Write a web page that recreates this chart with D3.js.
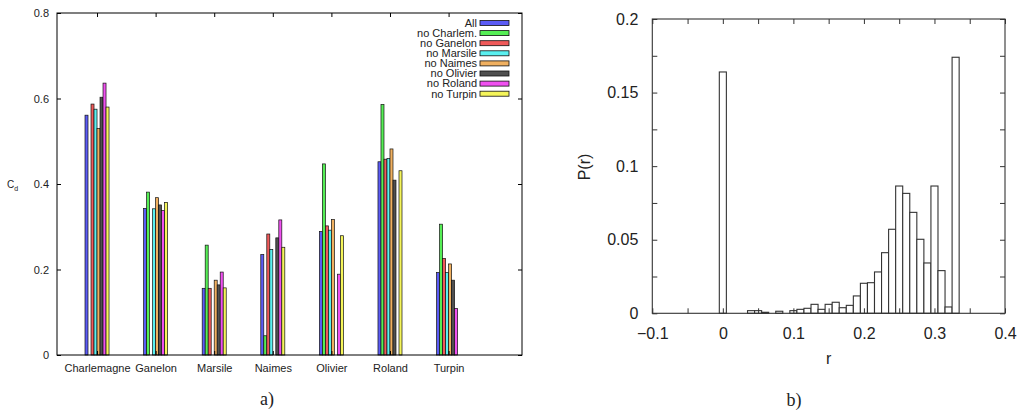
<!DOCTYPE html>
<html><head><meta charset="utf-8">
<script src="https://cdn.jsdelivr.net/npm/d3@7"></script>
<style>
body{margin:0;background:#fff;}
svg{display:block;}
text{font-family:"Liberation Sans",Arial,sans-serif;fill:#222;}
</style></head>
<body>
<svg id="c" width="1023" height="413"></svg>
<script>
// ---------- Data: panel a ----------
const categories = ["Charlemagne","Ganelon","Marsile","Naimes","Olivier","Roland","Turpin"];
const seriesNames = ["All","no Charlem.","no Ganelon","no Marsile","no Naimes","no Olivier","no Roland","no Turpin"];
const seriesColors = ["#5b5bf5","#55ee55","#f05a5a","#5af0f0","#f0b060","#505050","#f050f0","#f5f55a"];
const valAll      = [0.561,0.343,0.156,0.235,0.289,0.452,0.193];
const valNoCharl  = [0.000,0.381,0.257,0.045,0.447,0.586,0.306];
const valNoGanel  = [0.587,0.000,0.156,0.283,0.302,0.458,0.226];
const valNoMarsi  = [0.575,0.342,0.000,0.247,0.292,0.460,0.193];
const valNoNaime  = [0.530,0.368,0.175,0.000,0.317,0.482,0.213];
const valNoOlivi  = [0.603,0.351,0.164,0.274,0.000,0.409,0.175];
const valNoRolan  = [0.636,0.338,0.194,0.316,0.189,0.000,0.109];
const valNoTurpi  = [0.580,0.357,0.157,0.252,0.279,0.431,0.000];
const seriesValues = [valAll,valNoCharl,valNoGanel,valNoMarsi,valNoNaime,valNoOlivi,valNoRolan,valNoTurpi];
const yTicksA = [0,0.2,0.4,0.6,0.8];

// ---------- Data: panel b ----------
const rBins = [0,0.04,0.05,0.06,0.08,0.10,0.11,0.12,0.13,0.14,0.15,0.16,0.17,0.18,0.19,0.20,0.21,0.22,0.23,0.24,0.25,0.26,0.27,0.28,0.29,0.30,0.31,0.32,0.33];
const pValues = [0.164,0.0018,0.0018,0.0007,0.0014,0.0018,0.0027,0.0034,0.0061,0.0027,0.0061,0.0075,0.0038,0.0054,0.0118,0.0204,0.0208,0.0281,0.0412,0.0571,0.0865,0.0815,0.0686,0.0503,0.0342,0.0865,0.029,0.0043,0.174];
const xTicksB = [-0.1,0,0.1,0.2,0.3,0.4];
const yTicksB = [0,0.05,0.1,0.15,0.2];
const binWidth = 0.01;

const svg = d3.select("#c");

// ================= Panel a =================
(function(){
  const L=57,R=522,T=13,B=355;
  const x = d3.scaleLinear().domain([-0.683,7.253]).range([L,R]);
  const y = d3.scaleLinear().domain([0,0.8]).range([B,T]);
  const sb = d3.scaleBand().domain(d3.range(seriesNames.length)).range([-0.205,0.205]);
  const g = svg.append("g");

  // bars
  seriesValues.forEach((vals,si)=>{
    g.selectAll(null).data(vals).enter().append("rect")
      .attr("x",(d,i)=>x(i+sb(si)))
      .attr("width",(d,i)=>x(i+sb(si)+sb.bandwidth())-x(i+sb(si)))
      .attr("y",d=>y(d))
      .attr("height",d=>y(0)-y(d))
      .attr("fill",seriesColors[si])
      .attr("stroke","#111").attr("stroke-width",0.7);
  });

  // frame
  g.append("rect").attr("x",L).attr("y",T).attr("width",R-L).attr("height",B-T)
    .attr("fill","none").attr("stroke","#000").attr("stroke-width",1);

  // axes (ticks inward)
  const yl = d3.axisLeft(y).tickValues(yTicksA).tickSize(-4).tickPadding(8).tickFormat(d=>d===0?"0":d3.format(".1f")(d));
  const ga = g.append("g").attr("transform",`translate(${L},0)`).call(yl);
  ga.select(".domain").remove();
  ga.selectAll("text").attr("font-size",11).attr("fill","#222");
  const yr = d3.axisRight(y).tickValues(yTicksA).tickSize(-4).tickFormat("");
  g.append("g").attr("transform",`translate(${R},0)`).call(yr).select(".domain").remove();

  const xb = d3.axisBottom(x).tickValues(d3.range(categories.length)).tickSize(-4).tickPadding(9).tickFormat(i=>categories[i]);
  const gx = g.append("g").attr("transform",`translate(0,${B})`).call(xb);
  gx.select(".domain").remove();
  gx.selectAll("text").attr("font-size",11).attr("fill","#222");
  const xt = d3.axisTop(x).tickValues(d3.range(categories.length)).tickSize(-4).tickFormat("");
  g.append("g").attr("transform",`translate(0,${T})`).call(xt).select(".domain").remove();

  // y label C_d
  const lab = g.append("text").attr("x",7).attr("y",188).attr("font-size",10);
  lab.append("tspan").text("C");
  lab.append("tspan").attr("font-size",7).attr("dy",2.5).text("d");

  // legend
  const lg = g.append("g");
  seriesNames.forEach((n,i)=>{
    const yy = 23 + i*10.1;
    lg.append("text").attr("x",477).attr("y",yy).attr("dy","0.35em").attr("text-anchor","end")
      .attr("font-size",11).text(n);
    lg.append("rect").attr("x",480).attr("y",yy-2.5).attr("width",29).attr("height",5)
      .attr("fill",seriesColors[i]).attr("stroke","#111").attr("stroke-width",0.8);
  });

  svg.append("text").attr("x",267).attr("y",399).attr("dy","0.35em").attr("text-anchor","middle")
    .style("font-family","'Liberation Serif','DejaVu Serif',serif").attr("font-size",18).text("a)");
})();

// ================= Panel b =================
(function(){
  const L=652.3,R=1005,T=19,B=313.3;
  const x = d3.scaleLinear().domain([-0.1,0.4]).range([L,R]);
  const y = d3.scaleLinear().domain([0,0.2]).range([B,T]);
  const g = svg.append("g");

  g.selectAll(null).data(rBins).enter().append("rect")
    .attr("x",d=>x(d-binWidth/2))
    .attr("width",d=>x(d+binWidth/2)-x(d-binWidth/2))
    .attr("y",(d,i)=>y(pValues[i]))
    .attr("height",(d,i)=>y(0)-y(pValues[i]))
    .attr("fill","#fff").attr("stroke","#333").attr("stroke-width",1.1);

  g.append("rect").attr("x",L).attr("y",T).attr("width",R-L).attr("height",B-T)
    .attr("fill","none").attr("stroke","#333").attr("stroke-width",1.1);

  const yMinor = d3.range(0,0.2001,0.025);
  const xMinor = d3.range(-0.1,0.4001,0.05);
  const fmtX = d=>{ if(Math.abs(d)<1e-9) return "0"; const s=d3.format(".1f")(d); return s.replace("-","\u2212"); };
  const fmtY = d=>{ if(Math.abs(d)<1e-9) return "0"; return String(+d.toFixed(3)); };

  const gl = g.append("g").attr("transform",`translate(${L},0)`)
    .call(d3.axisLeft(y).tickValues(yMinor).tickSize(-5).tickFormat(""));
  gl.select(".domain").remove();
  const glab = g.append("g").attr("transform",`translate(${L},0)`)
    .call(d3.axisLeft(y).tickValues(yTicksB).tickSize(0).tickPadding(14).tickFormat(fmtY));
  glab.select(".domain").remove();
  glab.selectAll("text").attr("font-size",16).attr("fill","#222");
  g.append("g").attr("transform",`translate(${R},0)`)
    .call(d3.axisRight(y).tickValues(yMinor).tickSize(-5).tickFormat("")).select(".domain").remove();

  g.append("g").attr("transform",`translate(0,${B})`)
    .call(d3.axisBottom(x).tickValues(xMinor).tickSize(-5).tickFormat("")).select(".domain").remove();
  const gxl = g.append("g").attr("transform",`translate(0,${B})`)
    .call(d3.axisBottom(x).tickValues(xTicksB).tickSize(0).tickPadding(14).tickFormat(fmtX));
  gxl.select(".domain").remove();
  gxl.selectAll("text").attr("font-size",16).attr("fill","#222");
  g.append("g").attr("transform",`translate(0,${T})`)
    .call(d3.axisTop(x).tickValues(xMinor).tickSize(-5).tickFormat("")).select(".domain").remove();
  g.selectAll(".tick line").attr("stroke","#333");

  g.append("text").attr("x",(L+R)/2).attr("y",358).attr("dy","0.35em").attr("text-anchor","middle")
    .attr("font-size",16).text("r");
  g.append("text").attr("transform","translate(584,167) rotate(-90)").attr("dy","0.35em")
    .attr("text-anchor","middle").attr("font-size",16).text("P(r)");

  svg.append("text").attr("x",794).attr("y",400).attr("dy","0.35em").attr("text-anchor","middle")
    .style("font-family","'Liberation Serif','DejaVu Serif',serif").attr("font-size",18).text("b)");
})();
</script>
</body></html>
